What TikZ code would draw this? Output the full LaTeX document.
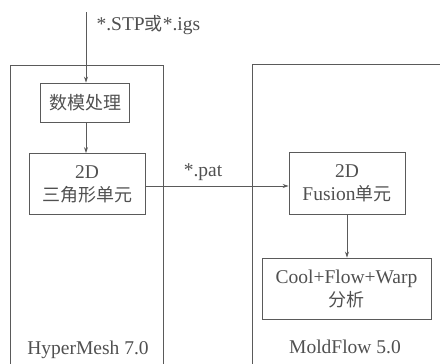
\documentclass[tikz,border=0pt]{standalone}
\usepackage{fontspec}
\setmainfont{Liberation Serif}
\newfontfamily\cjk{Noto Sans CJK SC}
\usetikzlibrary{arrows.meta}
\definecolor{ln}{HTML}{5A5A5A}
\definecolor{tx}{HTML}{505050}
\begin{document}
\begin{tikzpicture}[x=1pt,y=-1pt,
  every node/.style={text=tx,font=\fontsize{19.5}{23}\selectfont},
  boxn/.style={draw=ln,line width=0.9pt,align=center,inner sep=0pt},
  arr/.style={draw=ln,line width=0.8pt,-{Stealth[length=6pt,width=4pt]}},
  panel/.style={draw=ln,line width=0.8pt}]
\useasboundingbox (0,0) rectangle (440,364);
\draw[panel] (10,364) -- (10,65) -- (163,65) -- (163,364);
\draw[panel] (252,364) -- (252,64) -- (440,64);
\node[boxn,minimum width=89pt,minimum height=39pt] (a) at (85,102.5) {\cjk\fontsize{18}{22}\selectfont 数模处理};
\node[boxn,minimum width=116pt,minimum height=61pt] (b) at (87,184) {2D\\{\cjk\fontsize{18}{22}\selectfont 三角形单元}};
\node[boxn,minimum width=116pt,minimum height=62pt] (c) at (347,183) {2D\\Fusion{\cjk\fontsize{18}{22}\selectfont 单元}};
\node[boxn,minimum width=169pt,minimum height=61pt] (d) at (346.5,288.5) {Cool+Flow+Warp\\{\cjk\fontsize{18}{22}\selectfont 分析}};
\coordinate (in) at (86,12);
\draw[arr] (in) -- (in |- a.north);
\node[anchor=west] (lin) at (93,25) {*.STP{\cjk\fontsize{18}{22}\selectfont 或}*.igs};
\draw[arr] (a.south -| in) -- (b.north -| in);
\draw[arr] (b.east |- 0,186) -- (c.west |- 0,186);
\node (lpat) at (203,172) {*.pat};
\draw[arr] (c.south) -- (c.south |- d.north);
\node (hm) at (88,350) {HyperMesh 7.0};
\node (mf) at (345,347) {MoldFlow 5.0};
\end{tikzpicture}
\end{document}
